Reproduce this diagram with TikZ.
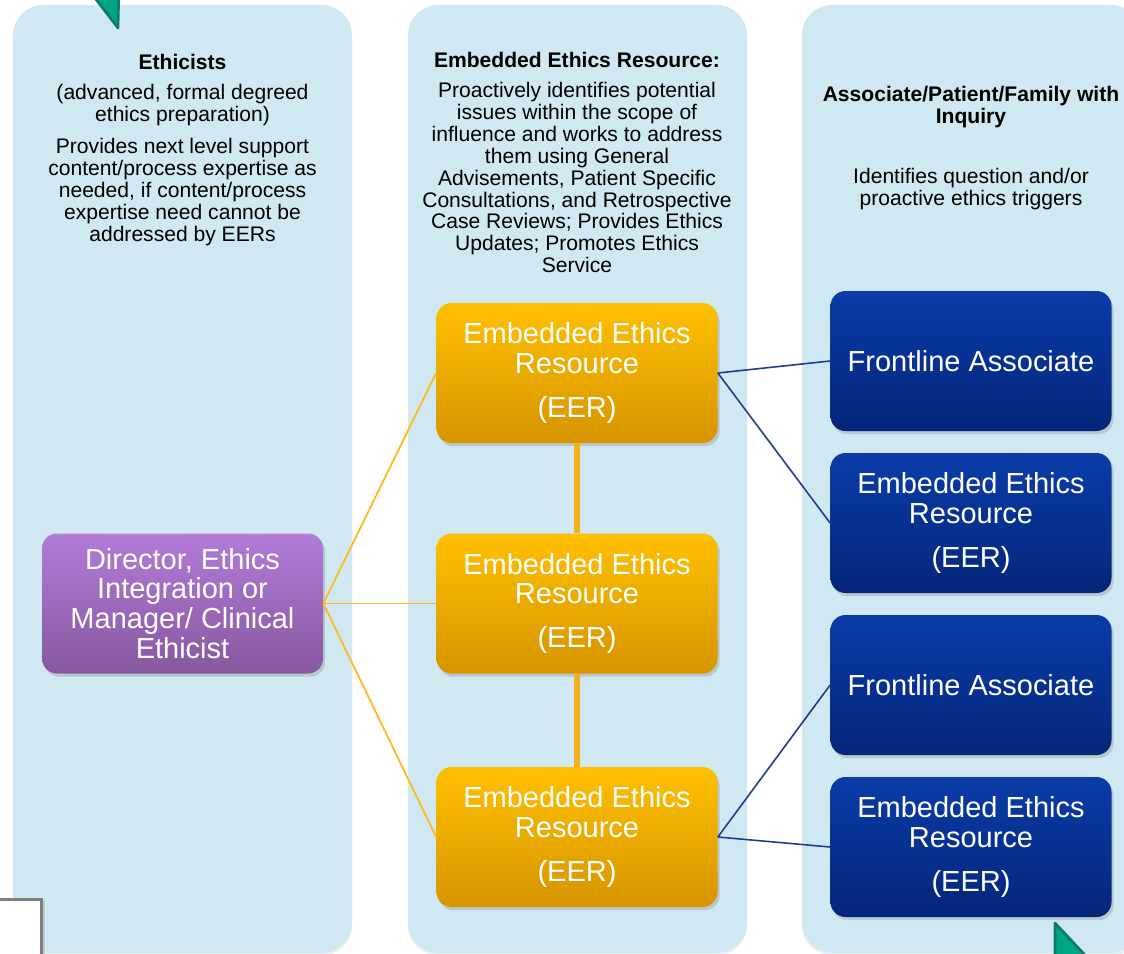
\documentclass[tikz,border=0pt]{standalone}
\usepackage{fontspec}
\setmainfont{Liberation Sans}
\usetikzlibrary{shadows}
\definecolor{lane fill}{HTML}{D0E8F2}
\definecolor{director top}{HTML}{B27BD8}
\definecolor{director bottom}{HTML}{87589F}
\definecolor{eer top}{HTML}{FFC000}
\definecolor{eer bottom}{HTML}{D69400}
\definecolor{frontline top}{HTML}{0A3CA8}
\definecolor{frontline bottom}{HTML}{04267A}
\definecolor{orange link}{HTML}{FFB81C}
\definecolor{chain orange}{HTML}{F5B01E}
\definecolor{blue link}{HTML}{1F3C8C}
\definecolor{corner fill}{HTML}{00A588}
\definecolor{corner draw}{HTML}{0E7C63}
\tikzset{
  lane/.style={rectangle, rounded corners=0.6cm, fill=lane fill, minimum width=6.78cm, minimum height=18.96cm, drop shadow={opacity=0.12, shadow xshift=0pt, shadow yshift=-1.5pt}},
  lane title/.style={font=\bfseries\fontsize{12}{12.5}\selectfont, align=center, inner sep=0pt},
  lane text/.style={font=\fontsize{12}{12.5}\selectfont, align=center, inner sep=0pt},
  role box/.style={rectangle, rounded corners=0.3cm, minimum width=5.62cm, minimum height=2.8cm, text=white, align=center, font=\fontsize{16.5}{17}\selectfont, drop shadow={opacity=0.3, shadow xshift=1.2pt, shadow yshift=-1.8pt}},
  director/.style={role box, top color=director top, bottom color=director bottom},
  eer/.style={role box, top color=eer top, bottom color=eer bottom},
  frontline/.style={role box, top color=frontline top, bottom color=frontline bottom},
  link/.style={draw=orange link, line width=1pt},
  chain link/.style={draw=chain orange, line width=3pt},
  inquiry link/.style={draw=blue link, line width=0.9pt},
  corner/.style={fill=corner fill, draw=corner draw, line width=1.5pt, line join=round},
  note box/.style={fill=white, draw=gray, line width=1.7pt, drop shadow={opacity=0.3, shadow xshift=2pt, shadow yshift=-1pt}}
}

\begin{document}
\begin{tikzpicture}
  \useasboundingbox (0,0) rectangle (22.48,-19.08);
  \clip (0,0) rectangle (22.48,-19.08);

  % lanes
  \node[lane] at (3.65,-9.58) (ethicists lane) {};
  \node[lane] at (11.55,-9.58) (eer lane) {};
  \node[lane] at (19.43,-9.58) (inquiry lane) {};

  \node[lane title] at (3.65,-1.24) (ethicists title) {Ethicists};
  \node[lane text] at (3.65,-2.1) (ethicists prep) {(advanced, formal degreed\\ethics preparation)};
  \node[lane text] at (3.65,-3.84) (ethicists text) {Provides next level support\\content/process expertise as\\needed, if content/process\\expertise need cannot be\\addressed by EERs};

  \node[lane title] at (11.54,-1.2) (eer title) {Embedded Ethics Resource:};
  \node[lane text] at (11.54,-3.55) (eer text) {Proactively identifies potential\\issues within the scope of\\influence and works to address\\them using General\\Advisements, Patient Specific\\Consultations, and Retrospective\\Case Reviews; Provides Ethics\\Updates; Promotes Ethics\\Service};

  \node[lane title] at (19.42,-2.15) (inquiry title) {Associate/Patient/Family with\\Inquiry};
  \node[lane text] at (19.42,-3.79) (inquiry text) {Identifies question and/or\\proactive ethics triggers};

  % corner marks
  \path[corner] (1.70,0.3) -- (2.38,0.3) -- (2.36,-0.56) -- cycle;
  \path[corner] (21.10,-18.46) -- (21.10,-19.4) -- (21.98,-19.4) -- cycle;
  \path[note box] (-0.2,-17.98) rectangle (0.83,-19.4);

  % roles
  \node[director] at (3.65,-12.07) (director) {Director, Ethics\\Integration or\\Manager/ Clinical\\Ethicist};

  \node[eer] at (11.54,-7.46) (eer 1) {Embedded Ethics\\Resource\\[8pt](EER)};
  \node[eer] at (11.54,-12.07) (eer 2) {Embedded Ethics\\Resource\\[8pt](EER)};
  \node[eer] at (11.54,-16.74) (eer 3) {Embedded Ethics\\Resource\\[8pt](EER)};

  \node[frontline] at (19.42,-7.22) (frontline 1) {Frontline Associate};
  \node[frontline] at (19.42,-10.46) (peer 1) {Embedded Ethics\\Resource\\[8pt](EER)};
  \node[frontline] at (19.42,-13.70) (frontline 2) {Frontline Associate};
  \node[frontline] at (19.42,-16.94) (peer 2) {Embedded Ethics\\Resource\\[8pt](EER)};

  % links
  \draw[link] (director.east) -- (eer 1.west);
  \draw[link] (director.east) -- (eer 2.west);
  \draw[link] (director.east) -- (eer 3.west);

  \draw[chain link] (eer 1.south) -- (eer 2.north);
  \draw[chain link] (eer 2.south) -- (eer 3.north);

  \draw[inquiry link] (eer 1.east) -- (frontline 1.west);
  \draw[inquiry link] (eer 1.east) -- (peer 1.west);
  \draw[inquiry link] (eer 3.east) -- (frontline 2.west);
  \draw[inquiry link] (eer 3.east) -- (peer 2.west);
\end{tikzpicture}
\end{document}
